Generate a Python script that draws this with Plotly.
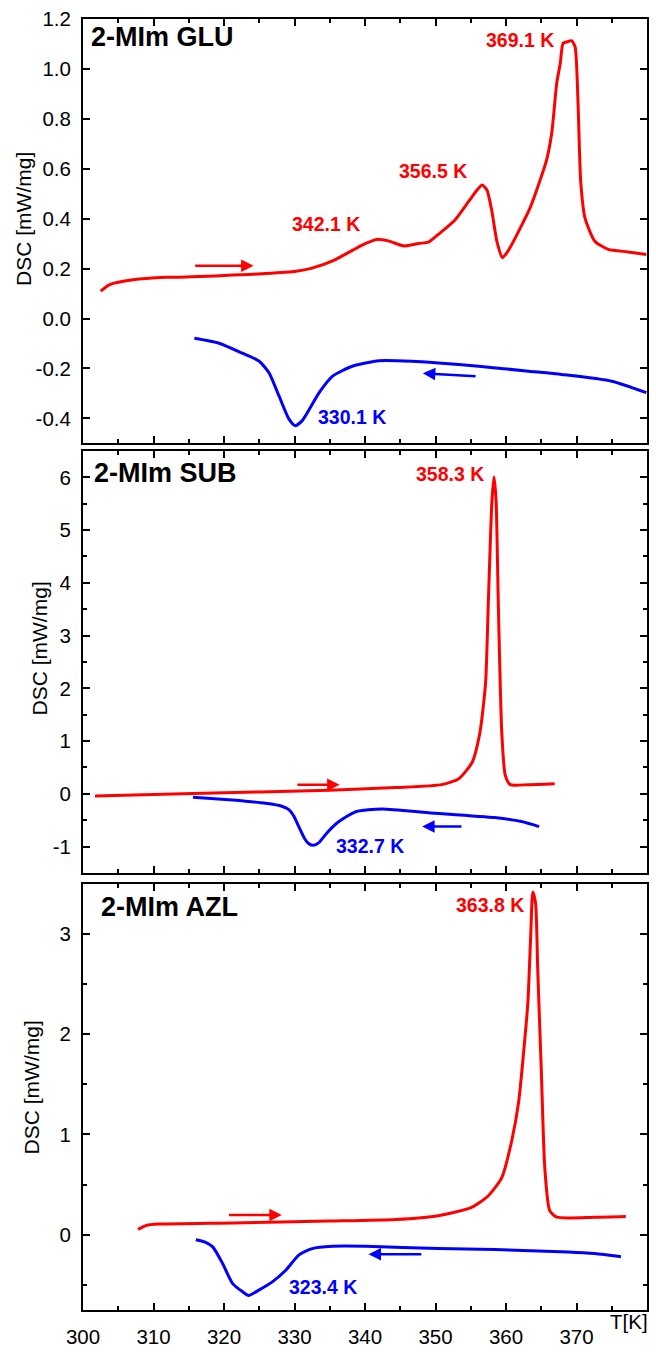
import plotly.graph_objects as go

# ---- 2-MIm GLU ----
glu_heat_T = [302.5, 303.8, 307.1, 311.8, 316.5, 321.2, 325.9, 330.2, 332.5, 335.4, 338.2, 340.1,
              341.7, 343.4, 345.5, 347.6, 349.0, 350.4, 352.8, 354.7, 355.9, 356.6, 357.3, 358.0,
              358.7, 359.5, 360.3, 361.8, 363.4, 364.6, 365.8, 366.5, 367.2, 367.7, 368.1, 368.7,
              369.3, 369.8, 370.2, 370.6, 371.2, 372.6, 374.5, 377.3, 379.9]
glu_heat_dsc = [0.11, 0.136, 0.155, 0.165, 0.168, 0.174, 0.18, 0.189, 0.202, 0.231, 0.273, 0.301,
                0.317, 0.31, 0.291, 0.301, 0.306, 0.337, 0.396, 0.469, 0.515, 0.535, 0.515, 0.429,
                0.31, 0.244, 0.271, 0.35, 0.442, 0.535, 0.64, 0.746, 0.944, 1.023, 1.103, 1.109,
                1.113, 1.089, 0.878, 0.548, 0.403, 0.31, 0.277, 0.267, 0.257]
glu_cool_T = [315.8, 319.3, 322.6, 325.0, 326.4, 327.8, 329.2, 330.1, 331.1, 333.5, 335.4, 338.2,
              342.0, 346.7, 350.4, 356.1, 363.2, 367.9, 375.0, 379.9]
glu_cool_dsc = [-0.079, -0.099, -0.139, -0.171, -0.218, -0.31, -0.402, -0.429, -0.409, -0.297, -0.231,
                -0.191, -0.169, -0.171, -0.178, -0.191, -0.211, -0.224, -0.251, -0.297]

# ---- 2-MIm SUB ----
sub_heat_T = [301.7, 315.6, 334.9, 344.3, 350.9, 353.3, 355.2, 356.3, 357.1, 357.5, 358.0, 358.3,
              358.6, 358.9, 359.4, 359.9, 360.6, 363.2, 366.9]
sub_heat_dsc = [-0.04, 0.006, 0.069, 0.119, 0.175, 0.287, 0.6, 1.163, 2.1, 3.66, 5.54, 6.01,
                5.54, 3.66, 1.163, 0.35, 0.175, 0.175, 0.193]
sub_cool_T = [315.6, 321.2, 325.9, 328.2, 329.2, 329.9, 330.6, 331.4, 332.0, 332.7, 333.5, 334.6,
              336.3, 338.7, 342.4, 349.0, 358.4, 362.2, 364.7]
sub_cool_dsc = [-0.062, -0.118, -0.18, -0.235, -0.3, -0.42, -0.62, -0.84, -0.94, -0.976, -0.92,
                -0.74, -0.525, -0.338, -0.287, -0.356, -0.45, -0.525, -0.62]

# ---- 2-MIm AZL ----
azl_heat_T = [307.8, 309.0, 310.8, 321.2, 334.9, 344.3, 350.4, 355.1, 357.5, 359.4, 360.8, 361.8,
              362.5, 363.1, 363.5, 363.8, 364.2, 364.5, 365.0, 365.5, 366.2, 367.2, 372.6, 377.0]
azl_heat_dsc = [0.053, 0.093, 0.106, 0.118, 0.136, 0.152, 0.19, 0.273, 0.389, 0.57, 0.932, 1.327,
                1.82, 2.314, 2.97, 3.416, 3.30, 2.643, 1.655, 0.668, 0.241, 0.175, 0.175, 0.182]
azl_cool_T = [316.0, 317.4, 318.4, 319.8, 321.2, 322.6, 323.5, 325.0, 326.9, 328.8, 330.6, 332.5,
              335.4, 340.1, 350.4, 358.4, 368.8, 372.6, 376.3]
azl_cool_dsc = [-0.049, -0.075, -0.121, -0.286, -0.484, -0.566, -0.605, -0.549, -0.467, -0.351,
                -0.203, -0.138, -0.115, -0.115, -0.138, -0.148, -0.171, -0.188, -0.22]

# panel names, peak labels and direction arrows
panel_names = ["2-MIm GLU", "2-MIm SUB", "2-MIm AZL"]
peak_labels = [
    # (panel, text, T, dsc, colour)
    (1, "369.1 K", 362.0, 1.116, "red"),
    (1, "356.5 K", 349.7, 0.593, "red"),
    (1, "342.1 K", 334.4, 0.377, "red"),
    (1, "330.1 K", 338.2, -0.393, "blue"),
    (2, "358.3 K", 352.1, 6.06, "red"),
    (2, "332.7 K", 340.7, -0.994, "blue"),
    (3, "363.8 K", 357.7, 3.287, "red"),
    (3, "323.4 K", 334.1, -0.523, "blue"),
]
arrows = [
    # (panel, tail T, tail dsc, head T, head dsc, colour)
    (1, 315.7, 0.211, 324.2, 0.211, "red"),
    (1, 355.9, -0.232, 348.2, -0.219, "blue"),
    (2, 330.2, 0.175, 336.4, 0.175, "red"),
    (2, 353.9, -0.62, 348.1, -0.62, "blue"),
    (3, 320.5, 0.197, 328.2, 0.197, "red"),
    (3, 348.2, -0.194, 340.5, -0.194, "blue"),
]

y1_ticks = [-0.4, -0.2, 0.0, 0.2, 0.4, 0.6, 0.8, 1.0, 1.2]
y1_text = ["-0.4", "-0.2", "0.0", "0.2", "0.4", "0.6", "0.8", "1.0", "1.2"]
y2_ticks = [-1, 0, 1, 2, 3, 4, 5, 6]
y2_text = ["-1", "0", "1", "2", "3", "4", "5", "6"]
y3_ticks = [0, 1, 2, 3]
y3_text = ["0", "1", "2", "3"]
x_ticks = [300, 310, 320, 330, 340, 350, 360, 370]
x_text = ["300", "310", "320", "330", "340", "350", "360", "370"]

FONT = "Liberation Sans, Arial, sans-serif"
RED = "#ff0000"
BLUE = "#0000ff"
COLORS = {"red": RED, "blue": BLUE}

fig = go.Figure()
series = [
    (glu_heat_T, glu_heat_dsc, RED, 1), (glu_cool_T, glu_cool_dsc, BLUE, 1),
    (sub_heat_T, sub_heat_dsc, RED, 2), (sub_cool_T, sub_cool_dsc, BLUE, 2),
    (azl_heat_T, azl_heat_dsc, RED, 3), (azl_cool_T, azl_cool_dsc, BLUE, 3),
]
for xs, ys, col, p in series:
    sfx = "" if p == 1 else str(p)
    fig.add_trace(go.Scatter(x=xs, y=ys, mode="lines",
                             line=dict(color=col, width=3, shape="spline", smoothing=0.6),
                             xaxis="x" + sfx, yaxis="y" + sfx, showlegend=False,
                             hoverinfo="skip"))

axis_common = dict(showline=True, linecolor="black", linewidth=2, mirror="allticks",
                   ticks="inside", ticklen=7, tickwidth=1.5, tickcolor="black",
                   showgrid=False, zeroline=False,
                   tickfont=dict(family=FONT, size=20.5, color="black"))

x_minor = dict(tickvals=[305, 315, 325, 335, 345, 355, 365, 375], ticks="inside",
               ticklen=4, tickwidth=1.5, tickcolor="black")

domains = [[0.6713, 1.0], [0.3385, 0.6654], [0.0, 0.3303]]
yranges = [[-0.5, 1.2], [-1.5, 6.5], [-0.75, 3.5]]
yticks = [(y1_ticks, y1_text, None),
          (y2_ticks, y2_text, [-1.5, -0.5, 0.5, 1.5, 2.5, 3.5, 4.5, 5.5]),
          (y3_ticks, y3_text, [-0.5, 0.5, 1.5, 2.5])]

layout = dict(width=656, height=1355, margin=dict(l=83, r=7, t=19, b=31),
              plot_bgcolor="white", paper_bgcolor="white",
              font=dict(family=FONT, color="black"))
for i in range(3):
    sfx = "" if i == 0 else str(i + 1)
    xa = dict(axis_common, domain=[0, 1], range=[300, 380], anchor="y" + sfx,
              tickmode="array", tickvals=x_ticks, ticktext=x_text, minor=x_minor,
              showticklabels=(i == 2), ticklabelstandoff=7)
    tv, tt, mv = yticks[i]
    ya = dict(axis_common, domain=domains[i], range=yranges[i], anchor="x" + sfx,
              tickmode="array", tickvals=tv, ticktext=tt, ticklabelstandoff=6)
    if mv:
        ya["minor"] = dict(tickvals=mv, ticks="inside", ticklen=4, tickwidth=1.5,
                           tickcolor="black")
    layout["xaxis" + sfx] = xa
    layout["yaxis" + sfx] = ya

annotations = []
name_pos = [(300.8, 1.126), (301.3, 6.08), (302.2, 3.27)]
title_pos = [(0.4, -0.106), (2.76, -0.0777), (1.47, -0.0919)]
for i in range(3):
    sfx = "" if i == 0 else str(i + 1)
    annotations.append(dict(text="<b>%s</b>" % panel_names[i], x=name_pos[i][0], y=name_pos[i][1],
                            xref="x" + sfx, yref="y" + sfx, xanchor="left", yanchor="middle",
                            showarrow=False, font=dict(family=FONT, size=27, color="black")))
    annotations.append(dict(text="DSC [mW/mg]", textangle=-90, x=title_pos[i][1],
                            y=title_pos[i][0], xref="paper", yref="y" + sfx,
                            xanchor="center", yanchor="middle", showarrow=False,
                            font=dict(family=FONT, size=21, color="black")))

for p, txt, tx, ty, col in peak_labels:
    sfx = "" if p == 1 else str(p)
    annotations.append(dict(text="<b>%s</b>" % txt, x=tx, y=ty, xref="x" + sfx, yref="y" + sfx,
                            xanchor="center", yanchor="middle", showarrow=False,
                            font=dict(family=FONT, size=19.5, color=COLORS[col])))

for p, t0, d0, t1, d1, col in arrows:
    sfx = "" if p == 1 else str(p)
    annotations.append(dict(text="", x=t1, y=d1, ax=t0, ay=d0, xref="x" + sfx, yref="y" + sfx,
                            axref="x" + sfx, ayref="y" + sfx, showarrow=True, arrowhead=2,
                            arrowsize=1, arrowwidth=2.5, arrowcolor=COLORS[col], standoff=0))

annotations.append(dict(text="T[K]", x=377.4, y=-0.0092, xref="x3", yref="paper",
                        xanchor="center", yanchor="middle", showarrow=False,
                        font=dict(family=FONT, size=20.5, color="black")))

layout["annotations"] = annotations
fig.update_layout(**layout)
fig.write_html("out.html")
